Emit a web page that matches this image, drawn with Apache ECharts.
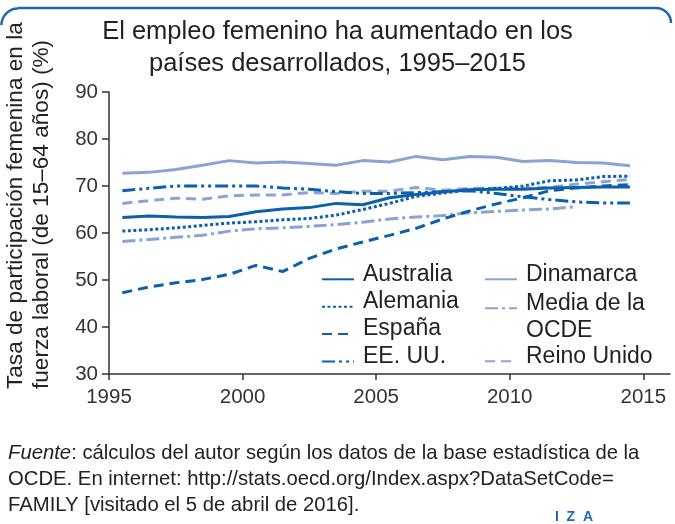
<!DOCTYPE html>
<html><head><meta charset="utf-8">
<script src="https://cdn.jsdelivr.net/npm/echarts@6/dist/echarts.min.js"></script>
<style>html,body{margin:0;padding:0;background:#fff}#c{width:675px;height:524px}</style>
</head><body><div id="c"></div>
<script>
const FONT = "'Liberation Sans', Arial, sans-serif";
const years = [1995,1996,1997,1998,1999,2000,2001,2002,2003,2004,2005,2006,2007,2008,2009,2010,2011,2012,2013,2014];
const australia = [63.3,63.6,63.4,63.3,63.5,64.5,65.1,65.4,66.3,66.0,67.5,68.2,68.8,69.2,69.3,69.3,69.6,69.7,69.8,69.8];
const alemania = [60.4,60.7,61.1,61.6,62.1,62.4,62.8,63.1,63.8,65.0,66.3,67.8,68.5,69.2,69.5,70.0,71.1,71.3,72.0,72.1];
const espana = [47.3,48.5,49.4,50.1,51.2,53.1,51.8,54.6,56.6,58.1,59.5,61.0,63.0,64.7,66.2,67.5,69.0,69.6,70.0,70.3];
const eeuu = [69.0,69.5,70.0,70.0,70.0,70.0,69.6,69.3,68.8,68.4,68.4,68.6,68.8,69.0,68.4,67.7,67.1,66.6,66.4,66.4];
const dinamarca = [72.7,72.9,73.5,74.4,75.4,74.9,75.1,74.8,74.4,75.4,75.1,76.3,75.6,76.3,76.1,75.2,75.4,75.0,74.9,74.3];
const ocde = [58.2,58.6,59.1,59.5,60.4,60.9,61.1,61.4,61.8,62.3,63.0,63.4,63.7,64.3,64.6,64.9,65.1,65.6];
const reinoUnido = [66.3,66.9,67.4,67.2,67.9,68.1,68.1,68.6,68.4,68.9,68.9,69.7,69.1,69.5,69.5,69.5,69.7,70.4,70.9,71.4];
const xTicks = [1995,2000,2005,2010,2015];
const yTicks = [30,40,50,60,70,80,90];

const DARK = '#0b5fae';
const LIGHT = '#8aa3d6';
// annual values are plotted at mid-year
const pts = arr => arr.map((v, i) => [years[i] + 0.5, v]);

const seriesDefs = [
  {name:'Dinamarca', data:dinamarca, color:LIGHT, type:'solid'},
  {name:'Media de la OCDE', data:ocde, color:LIGHT, type:[13,4,3,4]},
  {name:'Reino Unido', data:reinoUnido, color:LIGHT, type:[10,6]},
  {name:'Australia', data:australia, color:DARK, type:'solid'},
  {name:'Alemania', data:alemania, color:DARK, type:[3,2.5]},
  {name:'España', data:espana, color:DARK, type:[10,6]},
  {name:'EE. UU.', data:eeuu, color:DARK, type:[13,4,3,4,3,4]}
];

const rich = {
  a:{fontFamily:FONT, fontSize:23, color:'#222', lineHeight:27},
  s:{fontFamily:FONT, fontSize:8, color:'#222', lineHeight:10},
  t:{fontFamily:FONT, fontSize:8, color:'#222', lineHeight:17}
};
const legText = {fontFamily:FONT, fontSize:23, color:'#222', padding:[0,0,0,4], rich:rich};
const oneLine = name => '{a|' + name + '}\n{s| }';
const legBase = {orient:'vertical', padding:0, itemWidth:32, itemHeight:14, itemGap:-6.6,
  selectedMode:false, textStyle:legText, itemStyle:{opacity:0}, formatter:oneLine};

const chart = echarts.init(document.getElementById('c'), null, {renderer:'canvas'});
chart.setOption({
  animation:false,
  backgroundColor:'#fff',
  title:{
    text:'El empleo femenino ha aumentado en los\npaíses desarrollados, 1995–2015',
    left:'center', top:11,
    textStyle:{fontFamily:FONT, fontSize:25.5, fontWeight:'normal', color:'#222', lineHeight:32}
  },
  grid:{left:109, right:5, top:92, bottom:150, containLabel:false},
  xAxis:{
    type:'value', min:1995, max:2016, interval:5,
    axisLine:{lineStyle:{color:'#333', width:1.5}},
    axisTick:{show:true, length:6, customValues:xTicks, lineStyle:{color:'#333', width:1.5}},
    axisLabel:{customValues:xTicks, formatter:v => String(v), fontFamily:FONT, fontSize:20.5, color:'#333', margin:13},
    splitLine:{show:false}
  },
  yAxis:{
    type:'value', min:30, max:90, interval:10,
    axisLine:{show:true, lineStyle:{color:'#333', width:1.5}},
    axisTick:{show:true, length:7, customValues:yTicks, lineStyle:{color:'#333', width:1.5}},
    axisLabel:{customValues:yTicks, formatter:v => String(v), fontFamily:FONT, fontSize:20.5, color:'#333', margin:11},
    splitLine:{show:false}
  },
  legend:[
    Object.assign({}, legBase, {left:321, top:262.8, data:['Australia','Alemania','España','EE. UU.']}),
    Object.assign({}, legBase, {left:484, top:262.8, data:['Dinamarca']}),
    Object.assign({}, legBase, {left:484, top:277.3, data:['Media de la OCDE'],
      formatter:()=> '{t| }\n{a|Media de la}\n{a|OCDE}'}),
    Object.assign({}, legBase, {left:484, top:344.8, data:['Reino Unido']})
  ],
  series: seriesDefs.map(s => ({
    name:s.name, type:'line', data:pts(s.data), symbol:'none', showSymbol:false,
    color:s.color,
    lineStyle:{color:s.color, width:3, type:s.type, cap:'butt'},
    emphasis:{disabled:true}
  })),
  graphic:[
    {type:'line', shape:{x1:18, y1:8, x2:656, y2:8}, style:{stroke:'#1f66b5', lineWidth:2.5}},
    {type:'arc', shape:{cx:18, cy:25, r:16.5, startAngle:Math.PI, endAngle:Math.PI*1.5, clockwise:true}, style:{fill:null, stroke:'#1f66b5', lineWidth:2.5}},
    {type:'arc', shape:{cx:656, cy:23, r:15, startAngle:Math.PI*1.5, endAngle:Math.PI*2, clockwise:true}, style:{fill:null, stroke:'#1f66b5', lineWidth:2.5}},
    {type:'text', x:16, y:389, rotation:Math.PI/2,
      style:{text:'Tasa de participación femenina en la', fontFamily:FONT, fontSize:22.6, fill:'#222', align:'left', verticalAlign:'middle'}},
    {type:'text', x:42, y:389, rotation:Math.PI/2,
      style:{text:'fuerza laboral (de 15–64 años) (%)', fontFamily:FONT, fontSize:22.6, fill:'#222', align:'left', verticalAlign:'middle'}},
    {type:'text', x:8, y:440,
      style:{text:'{i|Fuente}: cálculos del autor según los datos de la base estadística de la\nOCDE. En internet: http://stats.oecd.org/Index.aspx?DataSetCode=\nFAMILY [visitado el 5 de abril de 2016].',
        fontFamily:FONT, fontSize:20.3, fill:'#222', lineHeight:26, align:'left', verticalAlign:'top',
        rich:{i:{fontStyle:'italic', fontFamily:FONT, fontSize:20.3, fill:'#222', lineHeight:26}}}},
    {type:'text', x:574, y:517,
      style:{text:'I  Z  A', fontFamily:FONT, fontWeight:'bold', fontSize:14, fill:'#1f66b5', align:'center', verticalAlign:'middle'}}
  ]
});
</script></body></html>
